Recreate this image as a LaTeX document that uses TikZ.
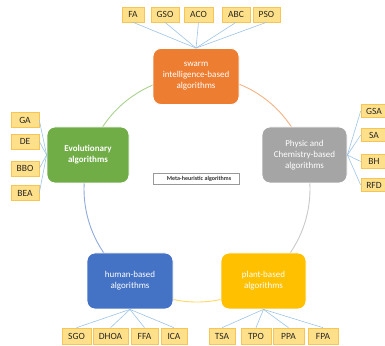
\documentclass[tikz,border=0pt]{standalone}
\usepackage{fontspec}
\setmainfont{Carlito}
\usetikzlibrary{shadows,calc}
\definecolor{cOrange}{HTML}{ED7D31}
\definecolor{cGreen}{HTML}{70AD47}
\definecolor{cGray}{HTML}{A5A5A5}
\definecolor{cBlue}{HTML}{4472C4}
\definecolor{cYellow}{HTML}{FFC000}
\definecolor{aOrange}{HTML}{F4B183}
\definecolor{aGreen}{HTML}{A9D18E}
\definecolor{aGray}{HTML}{C9C9C9}
\definecolor{aBlue}{HTML}{8FAADC}
\definecolor{aYellow}{HTML}{FFD966}
\definecolor{smFill}{HTML}{FFE08A}
\definecolor{smDraw}{HTML}{F7C555}
\definecolor{lnBlue}{HTML}{9DC3E6}
\tikzset{
  mainbox/.style={rectangle, rounded corners=8pt, draw=white, line width=0.8pt,
    text=white, align=center, font=\fontsize{9}{11}\selectfont,
    minimum height=56pt, inner sep=1pt},
  smallbox/.style={rectangle, fill=smFill, draw=smDraw, line width=0.6pt,
    text=black!85, font=\fontsize{9.5}{11}\selectfont, minimum height=15pt, inner sep=0pt},
  link/.style={draw=lnBlue, line width=0.6pt},
  ring/.style={line width=0.9pt}
}
\begin{document}
\begin{tikzpicture}[x=1pt,y=1pt]
\useasboundingbox (0,0) rectangle (385,345);
\coordinate (ctr) at (197,156);
% ring arcs
\draw[ring, aGreen] ($(ctr)+(111:113)$) arc[start angle=111, end angle=148, radius=113];
\draw[ring, aOrange] ($(ctr)+(68:113)$) arc[start angle=68, end angle=32, radius=113];
\draw[ring, aBlue] ($(ctr)+(175:113)$) arc[start angle=175, end angle=216, radius=113];
\draw[ring, aGray] ($(ctr)+(5:113)$) arc[start angle=5, end angle=-36, radius=113];
\draw[ring, aYellow] ($(ctr)+(257:113)$) arc[start angle=257, end angle=283, radius=113];
% main boxes
\node[mainbox, fill=cOrange, minimum width=86pt] (swarm) at (196,268.5) {swarm\\intelligence-based\\algorithms};
\node[mainbox, fill=cGreen, minimum width=82pt, font=\fontsize{9}{11}\selectfont\bfseries] (evo) at (88,190) {Evolutionary\\algorithms};
\node[mainbox, fill=cGray, minimum width=85pt] (phys) at (304.5,190) {Physic and\\Chemistry-based\\algorithms};
\node[mainbox, fill=cBlue, minimum width=86pt] (human) at (130,64) {human-based\\algorithms};
\node[mainbox, fill=cYellow, minimum width=85pt] (plant) at (263.5,64) {plant-based\\algorithms};
\node[rectangle, draw=black!40, fill=white, line width=0.5pt, minimum width=86pt, minimum height=11pt, inner sep=0pt,
  drop shadow={shadow xshift=0.8pt, shadow yshift=-0.8pt, opacity=0.35}] (meta) at (196,166.5) {};
\node[font=\fontsize{6}{7}\selectfont\bfseries, text=black!80, inner sep=0pt] (metatxt) at (199,166.5) {Meta-heuristic algorithms};
% top small boxes
\node[smallbox, minimum width=22pt] (fa) at (133,330.5) {FA};
\node[smallbox, minimum width=28pt] (gso) at (165,330.5) {GSO};
\node[smallbox, minimum width=29pt] (aco) at (198.5,330.5) {ACO};
\node[smallbox, minimum width=28pt] (abc) at (236,330.5) {ABC};
\node[smallbox, minimum width=27pt] (pso) at (266.5,330.5) {PSO};
% left small boxes
\node[smallbox, minimum width=28pt] (ga) at (25,225) {GA};
\node[smallbox, minimum width=28pt] (de) at (25,203.5) {DE};
\node[smallbox, minimum width=28pt] (bbo) at (25,176.5) {BBO};
\node[smallbox, minimum width=28pt] (bea) at (25,152) {BEA};
% right small boxes
\node[smallbox, minimum width=26pt, minimum height=13.5pt] (gsa) at (374,234) {GSA};
\node[smallbox, minimum width=26pt, minimum height=13.5pt] (sa) at (374,210) {SA};
\node[smallbox, minimum width=26pt, minimum height=13.5pt] (bh) at (374,183.5) {BH};
\node[smallbox, minimum width=26pt, minimum height=13.5pt] (rfd) at (374,160) {RFD};
% bottom small boxes (human)
\node[smallbox, minimum width=29pt, minimum height=16pt] (sgo) at (76.5,9) {SGO};
\node[smallbox, minimum width=35pt, minimum height=16pt] (dhoa) at (110.5,9) {DHOA};
\node[smallbox, minimum width=27pt, minimum height=16pt] (ffa) at (144.5,9) {FFA};
\node[smallbox, minimum width=26pt, minimum height=16pt] (ica) at (174,9) {ICA};
% bottom small boxes (plant)
\node[smallbox, minimum width=26pt, minimum height=16pt] (tsa) at (222,9) {TSA};
\node[smallbox, minimum width=30pt, minimum height=16pt] (tpo) at (256,9) {TPO};
\node[smallbox, minimum width=31pt, minimum height=16pt] (ppa) at (288.5,9) {PPA};
\node[smallbox, minimum width=30pt, minimum height=16pt] (fpa) at (323,9) {FPA};
% connectors
\foreach \n in {fa,gso,aco,abc,pso} \draw[link] (\n.south) -- (swarm.north);
\foreach \n in {ga,de,bbo,bea} \draw[link] (\n.east) -- (evo.west);
\foreach \n in {gsa,sa,bh,rfd} \draw[link] (\n.west) -- (phys.east);
\foreach \n in {sgo,dhoa,ffa,ica} \draw[link] (\n.north) -- (human.south);
\foreach \n in {tsa,tpo,ppa,fpa} \draw[link] (\n.north) -- (plant.south);
\end{tikzpicture}
\end{document}
